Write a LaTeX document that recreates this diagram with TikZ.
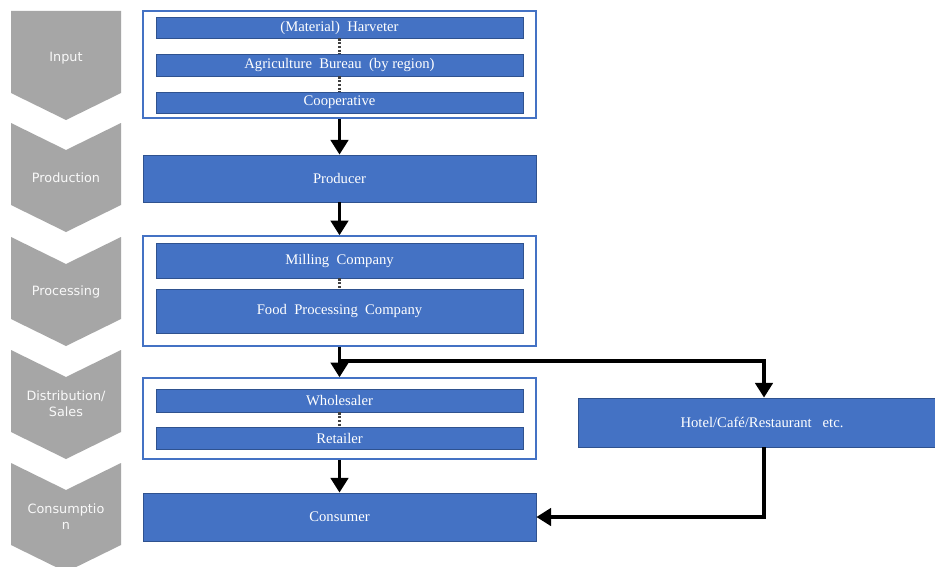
\documentclass[tikz,border=0pt]{standalone}
\usepackage{fontspec}
\setmainfont{Liberation Serif}
\newfontfamily\stagefont{DejaVu Sans}
\usetikzlibrary{arrows.meta,fit}
\definecolor{barblue}{HTML}{4472C4}
\definecolor{bardark}{HTML}{2F528F}
\definecolor{stagegray}{HTML}{A6A6A6}
\tikzset{
  bar/.style={fill=barblue, draw=bardark, line width=0.6pt, inner sep=0pt},
  bartext/.style={text=white, font=\fontsize{11}{13}\selectfont},
  group/.style={draw=barblue, line width=1.1pt, inner sep=0pt, fill=white},
  flow/.style={line width=2.6pt, -{Triangle[width=13pt,length=11pt]}},
  link/.style={line width=2pt, black!75, dash pattern=on 1.6pt off 1.2pt},
  stage/.style={fill=stagegray, draw=none},
  stagelabel/.style={text=white!95!gray, align=center,
    font=\stagefont\fontsize{9.6}{12}\selectfont}
}
\begin{document}
\begin{tikzpicture}[x=0.75pt,y=-0.75pt]
\useasboundingbox (0,0) rectangle (935,567);
\fill[white] (0,0) rectangle (935,567);

% stage chevrons down the left side
\fill[stage] (11,11) -- (121,11) -- (121,93) -- (66,120) -- (11,93) -- cycle;
\foreach \y in {123,237,350,463}{
  \fill[stage] (11,\y) -- (66,\y+27) -- (121,\y) -- (121,\y+82) -- (66,\y+109) -- (11,\y+82) -- cycle;
}
\node[stagelabel] (sInput) at (66,58) {Input};
\node[stagelabel] (sProd) at (66,178) {Production};
\node[stagelabel] (sProc) at (66,292) {Processing};
\node[stagelabel] (sDist) at (66,404) {Distribution/\\Sales};
\node[stagelabel] (sCons) at (66,517) {Consumptio\\n};

% input group
\node[group, fit={(143,11)(536,118)}] (input) {};
\node[bar, fit={(156,17)(523,38)}] (harv) {};
\node[bartext] at (harv) {(Material)\ \ Harveter};
\node[bar, fit={(156,54)(523,76)}] (bureau) {};
\node[bartext] at (bureau) {Agriculture\ \ Bureau\ \ (by\ region)};
\node[bar, fit={(156,92)(523,113)}] (coop) {};
\node[bartext] at (coop) {Cooperative};
\draw[link] (harv.south) -- (bureau.north);
\draw[link] (bureau.south) -- (coop.north);

% producer
\node[bar, fit={(143,155)(536,202)}] (prod) {};
\node[bartext] at (prod) {Producer};

% processing group
\node[group, fit={(143,236)(536,346)}] (proc) {};
\node[bar, fit={(156,243)(523,278)}] (mill) {};
\node[bartext] at (mill) {Milling\ \ Company};
\node[bar, fit={(156,289)(523,333)}] (food) {};
\node[bartext] at (food) {Food\ \ Processing\ \ Company};
\draw[link] (mill.south) -- (food.north);

% distribution group
\node[group, fit={(143,378)(536,459)}] (dist) {};
\node[bar, fit={(156,389)(523,412)}] (whole) {};
\node[bartext] at (whole) {Wholesaler};
\node[bar, fit={(156,427)(523,449)}] (retail) {};
\node[bartext] at (retail) {Retailer};
\draw[link] (whole.south) -- (retail.north);

% hotel / cafe / restaurant branch
\node[bar, fit={(578,398)(950,447)}] (hotel) {};
\node[bartext] at (762,422) {Hotel/Café/Restaurant\ \ \ etc.};

% consumer
\node[bar, fit={(143,493)(536,541)}] (cons) {};
\node[bartext] at (cons) {Consumer};

% flows
\coordinate (split) at (340,361);
\draw[flow] (input.south) -- (prod.north);
\draw[flow] (prod.south) -- (proc.north);
\draw[flow] (proc.south) -- (dist.north);
\draw[flow] (split) -| (hotel.north);
\draw[flow] (dist.south) -- (cons.north);
\draw[flow] (hotel.south) |- (cons.east);
\end{tikzpicture}
\end{document}
